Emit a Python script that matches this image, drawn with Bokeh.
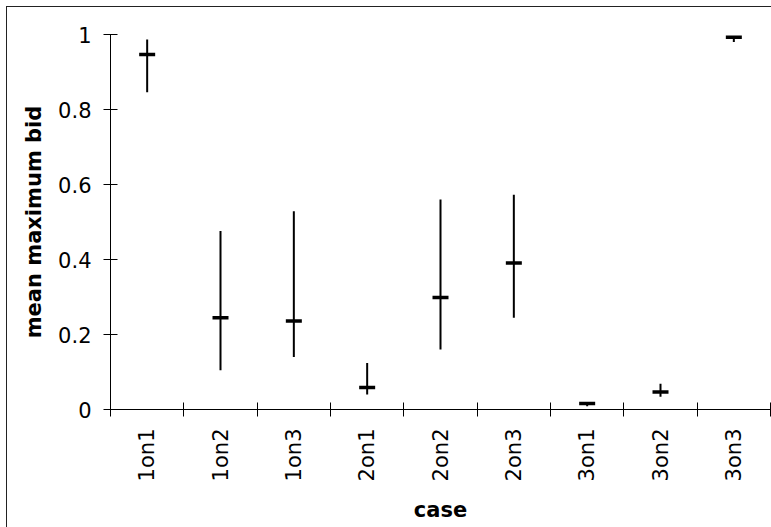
import math
from bokeh.plotting import figure
from bokeh.models import (FactorRange, Range1d, LinearAxis, FixedTicker, ColumnDataSource)
from bokeh.embed import file_html
from bokeh.resources import INLINE

# ---- data ----
categories = ["1on1", "1on2", "1on3", "2on1", "2on2", "2on3", "3on1", "3on2", "3on3"]
means = [0.947, 0.245, 0.236, 0.059, 0.299, 0.391, 0.016, 0.047, 0.993]
lower = [0.846, 0.105, 0.140, 0.040, 0.160, 0.245, 0.009, 0.034, 0.980]
upper = [0.987, 0.476, 0.529, 0.124, 0.560, 0.573, 0.020, 0.069, 0.996]
y_ticks = [0, 0.2, 0.4, 0.6, 0.8, 1]
y_tick_labels = ["0", "0.2", "0.4", "0.6", "0.8", "1"]
x_title = "case"
y_title = "mean maximum bid"

FONT = "DejaVu Sans"

src = ColumnDataSource(dict(case=categories, mean=means, lo=lower, hi=upper))

p = figure(width=764, height=520,
           x_range=FactorRange(factors=categories, range_padding=0),
           y_range=Range1d(0, 1),
           x_axis_location=None,
           output_backend="svg", toolbar_location=None,
           min_border_left=103, min_border_right=1,
           min_border_top=27, min_border_bottom=118)
p.margin = (7, 0, 0, 7)
p.outline_line_color = None
p.background_fill_color = "white"
p.border_fill_color = "white"
p.grid.visible = False
p.styles = {"outline": "1.5px solid #222"}

# x axis: labels at category centres, ticks at category boundaries
# (numeric positions are the factor range's own synthetic coordinates)
n = len(categories)
centers = [i + 0.5 for i in range(n)]
bounds = [i for i in range(n + 1)]
xaxis = LinearAxis(ticker=FixedTicker(ticks=centers, minor_ticks=bounds),
                   major_label_overrides={c: lab for c, lab in zip(centers, categories)})
xaxis.major_label_orientation = math.pi / 2
xaxis.major_tick_line_color = None
xaxis.major_tick_out = 7
xaxis.major_tick_in = 0
xaxis.minor_tick_line_color = "black"
xaxis.minor_tick_in = 7
xaxis.minor_tick_out = 7
xaxis.axis_line_color = "black"
xaxis.major_label_standoff = 12
xaxis.major_label_text_font = FONT
xaxis.major_label_text_font_size = "21px"
xaxis.major_label_text_color = "black"
xaxis.axis_label = x_title
xaxis.axis_label_text_font = FONT
xaxis.axis_label_text_font_size = "21px"
xaxis.axis_label_text_font_style = "bold"
xaxis.axis_label_text_color = "black"
xaxis.axis_label_standoff = 14
p.add_layout(xaxis, "below")

# y axis
yaxis = p.yaxis[0]
yaxis.ticker = FixedTicker(ticks=y_ticks)
yaxis.major_label_overrides = {t: lab for t, lab in zip(y_ticks, y_tick_labels)}
yaxis.major_tick_in = 7
yaxis.major_tick_out = 7
yaxis.minor_tick_line_color = None
yaxis.axis_line_color = "black"
yaxis.major_tick_line_color = "black"
yaxis.major_label_standoff = 12
yaxis.major_label_text_font = FONT
yaxis.major_label_text_font_size = "21px"
yaxis.major_label_text_color = "black"
yaxis.axis_label = y_title
yaxis.axis_label_text_font = FONT
yaxis.axis_label_text_font_size = "21px"
yaxis.axis_label_text_font_style = "bold"
yaxis.axis_label_text_color = "black"
yaxis.axis_label_standoff = 9

# error bars and mean marks
p.segment(x0="case", y0="lo", x1="case", y1="hi", source=src,
          line_color="black", line_width=2)
p.scatter(x="case", y="mean", source=src, marker="dash", size=16,
          line_color="black", line_width=3.5)

open("out.html", "w").write(file_html(p, INLINE))
